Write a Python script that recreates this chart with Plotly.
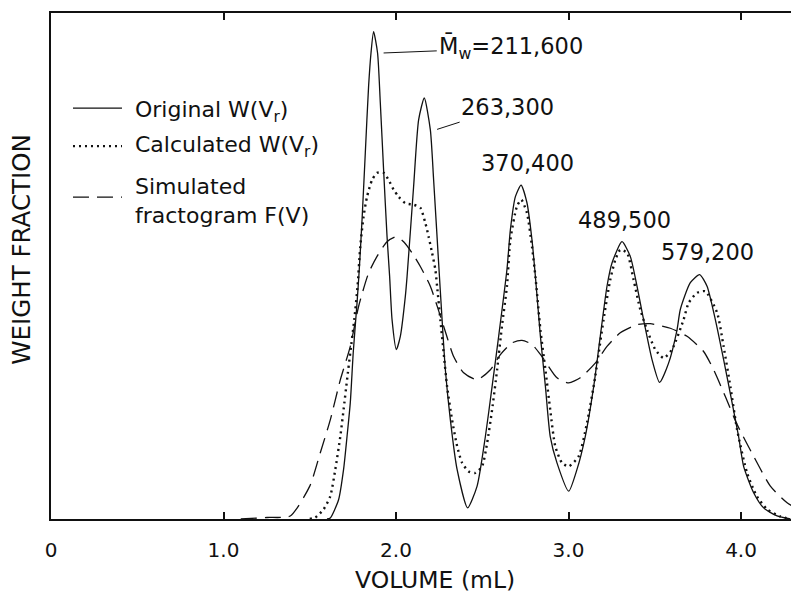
import plotly.graph_objects as go

# ---- data (volume in mL, weight fraction in arbitrary units, 0-100 = axis height) ----
orig_x = [1.600, 1.619, 1.667, 1.696, 1.716, 1.735, 1.752, 1.774, 1.787, 1.803, 1.822, 1.841, 1.855, 1.870,
          1.893, 1.909, 1.928, 1.948, 1.963, 1.977, 2.002, 2.025, 2.054, 2.064, 2.102, 2.131, 2.164,
          2.199, 2.218, 2.247, 2.267, 2.286, 2.315, 2.354, 2.415, 2.470, 2.518, 2.557, 2.595, 2.643,
          2.663, 2.692, 2.725, 2.759, 2.788, 2.808, 2.837, 2.866, 2.894, 2.933, 3.001, 3.049, 3.097,
          3.146, 3.184, 3.223, 3.252, 3.310, 3.358, 3.397, 3.435, 3.484, 3.528, 3.580, 3.629, 3.648,
          3.706, 3.760, 3.803, 3.851, 3.899, 3.948, 3.986, 4.015, 4.073, 4.131, 4.209, 4.286]
orig_y = [0.0, 0.2, 3.8, 9.8, 16.3, 23.0, 32.9, 42.7, 49.3, 59.1, 72.4, 85.5, 92.1, 96.3,
          92.1, 82.2, 69.0, 55.8, 47.9, 39.4, 33.5, 36.1, 44.0, 47.9, 65.7, 78.9, 83.2,
          76.9, 67.0, 50.6, 39.4, 29.5, 19.6, 9.8, 2.2, 6.5, 16.3, 26.2, 36.1, 49.3,
          57.2, 63.7, 66.0, 62.5, 55.2, 47.9, 36.1, 26.2, 16.3, 11.1, 5.5, 9.8, 16.3,
          26.2, 36.1, 46.0, 50.6, 54.8, 51.9, 46.0, 39.4, 31.5, 27.0, 30.8, 37.4, 41.4,
          46.7, 48.3, 46.0, 39.4, 31.5, 23.0, 16.3, 10.4, 5.2, 2.2, 0.6, 0.0]

calc_x = [1.500, 1.532, 1.580, 1.619, 1.648, 1.677, 1.696, 1.716, 1.735, 1.758, 1.777, 1.793, 1.812,
          1.832, 1.861, 1.890, 1.928, 1.957, 1.986, 2.015, 2.054, 2.102, 2.141, 2.170, 2.189, 2.209,
          2.228, 2.238, 2.257, 2.276, 2.296, 2.325, 2.354, 2.383, 2.421, 2.460, 2.499, 2.528, 2.557,
          2.586, 2.614, 2.643, 2.663, 2.701, 2.726, 2.759, 2.788, 2.808, 2.837, 2.866, 2.894, 2.923,
          2.962, 3.001, 3.059, 3.107, 3.155, 3.203, 3.242, 3.271, 3.300, 3.339, 3.377, 3.416, 3.455,
          3.503, 3.551, 3.600, 3.667, 3.696, 3.745, 3.793, 3.861, 3.899, 3.938, 3.977, 4.035, 4.090,
          4.151, 4.228, 4.286]
calc_y = [0.0, 0.3, 1.9, 4.5, 9.8, 16.3, 21.6, 27.5, 32.9, 39.4, 46.0, 53.9, 59.8,
          63.7, 67.0, 68.4, 68.4, 67.0, 65.1, 63.7, 62.4, 62.1, 61.5, 58.5, 55.8, 52.6,
          49.3, 46.0, 39.4, 32.9, 26.2, 19.6, 14.4, 11.1, 9.4, 9.1, 10.4, 15.0, 21.6,
          29.5, 38.1, 46.0, 55.2, 61.8, 63.1, 60.5, 53.9, 47.9, 37.4, 29.5, 21.6, 14.4,
          11.1, 10.4, 12.4, 19.0, 28.2, 39.4, 47.3, 51.2, 53.2, 52.6, 47.3, 41.4, 37.4,
          33.5, 31.8, 33.5, 39.4, 42.7, 44.7, 45.0, 40.8, 34.1, 26.2, 17.7, 9.1, 4.6,
          1.9, 0.5, 0.0]

sim_x = [1.100, 1.252, 1.387, 1.500, 1.561, 1.619, 1.677, 1.735, 1.783, 1.841, 1.890, 1.948, 2.002,
         2.044, 2.093, 2.141, 2.199, 2.276, 2.334, 2.392, 2.470, 2.547, 2.605, 2.672, 2.730, 2.788,
         2.846, 2.933, 3.001, 3.068, 3.155, 3.223, 3.300, 3.397, 3.474, 3.590, 3.687, 3.783, 3.841,
         3.909, 3.977, 4.073, 4.170, 4.267, 4.332, 4.450]
sim_y = [0.0, 0.3, 0.6, 6.5, 13.1, 19.6, 27.5, 34.1, 42.0, 48.6, 51.9, 54.8, 55.8,
         54.8, 52.6, 49.9, 46.0, 38.1, 32.1, 28.9, 27.5, 29.5, 32.5, 34.8, 35.3, 34.5,
         32.1, 27.9, 26.9, 27.9, 30.8, 34.1, 36.8, 38.4, 38.6, 37.7, 36.1, 33.1, 29.5,
         24.2, 18.7, 12.4, 6.5, 3.2, 1.9, 0.0]

series_names = ["Original W(V<sub>r</sub>)", "Calculated W(V<sub>r</sub>)", "Simulated<br>fractogram F(V)"]

tick_vals = [0, 1, 2, 3, 4]
tick_text = ["0", "1.0", "2.0", "3.0", "4.0"]

peak_labels = ["M\u0304<sub>w</sub>=211,600", "263,300", "370,400", "489,500", "579,200"]
label_x = [2.668, 2.648, 2.761, 3.324, 3.803]
label_y = [93.1, 81.5, 70.3, 59.1, 52.7]
leader_x = [1.928, 2.238, None, None, None]
leader_y = [92.1, 77.0, None, None, None]

FONT = "DejaVu Sans"
INK = "#111"

styles = [dict(width=1.3, dash="solid"),
          dict(width=2.4, dash="2px,4px"),
          dict(width=1.3, dash="16px,8px")]

fig = go.Figure()
for xs, ys, name, st in zip([orig_x, calc_x, sim_x], [orig_y, calc_y, sim_y], series_names, styles):
    fig.add_trace(go.Scatter(x=xs, y=ys, mode="lines", name=name, showlegend=False,
                             line=dict(color=INK, width=st["width"], dash=st["dash"],
                                       shape="spline", smoothing=0.6)))

# hand-drawn legend (50 px samples as in the original figure)
leg_rows_y = [0.812, 0.737, 0.636]
text_rows_y = [0.806, 0.737, 0.628]
for name, st, ly, ty in zip(series_names, styles, leg_rows_y, text_rows_y):
    fig.add_shape(type="line", xref="paper", yref="paper", x0=0.0294, x1=0.0949, y0=ly, y1=ly,
                  line=dict(color=INK, width=st["width"], dash=st["dash"]))
    fig.add_annotation(xref="paper", yref="paper", x=0.1096, y=ty, text=name, showarrow=False,
                       xanchor="left", yanchor="middle", align="left",
                       font=dict(family=FONT, size=22, color=INK))

for txt, tx, ty, lx, ly in zip(peak_labels, label_x, label_y, leader_x, leader_y):
    if lx is None:
        fig.add_annotation(x=tx, y=ty, text=txt, showarrow=False,
                           font=dict(family=FONT, size=22.5, color=INK))
    else:
        fig.add_annotation(x=lx, y=ly, ax=tx, ay=ty, axref="x", ayref="y", text=txt,
                           showarrow=True, arrowhead=0, arrowwidth=1, arrowcolor=INK,
                           standoff=0, borderpad=2,
                           font=dict(family=FONT, size=22.5, color=INK))

# axis titles
fig.add_annotation(xref="paper", yref="paper", x=0.513, y=-0.121, text="VOLUME (mL)", showarrow=False,
                   xanchor="center", yanchor="middle", borderpad=0,
                   font=dict(family=FONT, size=23.5, color=INK))
fig.add_annotation(xref="paper", yref="paper", x=-0.039, y=0.532, text="WEIGHT FRACTION", showarrow=False,
                   textangle=-90, xanchor="center", yanchor="middle",
                   font=dict(family=FONT, size=24.5, color=INK))

# the page adds an 8 px body margin, so the figure is sized 8 px smaller and margins shifted
fig.update_layout(
    width=791, height=589,
    margin=dict(l=43, r=0, t=5, b=78),
    paper_bgcolor="white", plot_bgcolor="white",
    showlegend=False,
    font=dict(family=FONT, color=INK),
)
fig.update_xaxes(range=[0, 4.336], tickvals=tick_vals, ticktext=tick_text, ticks="inside", ticklen=7,
                 tickwidth=1.5, tickcolor=INK, showline=True, linecolor=INK, linewidth=2, mirror="ticks",
                 showgrid=False, zeroline=False, ticklabelstandoff=12,
                 tickfont=dict(family=FONT, size=20, color=INK))
fig.update_yaxes(range=[0, 100], showticklabels=False, ticks="", showline=True, linecolor=INK,
                 linewidth=1.6, mirror=False, showgrid=False, zeroline=False)

fig.write_html("out.html")
